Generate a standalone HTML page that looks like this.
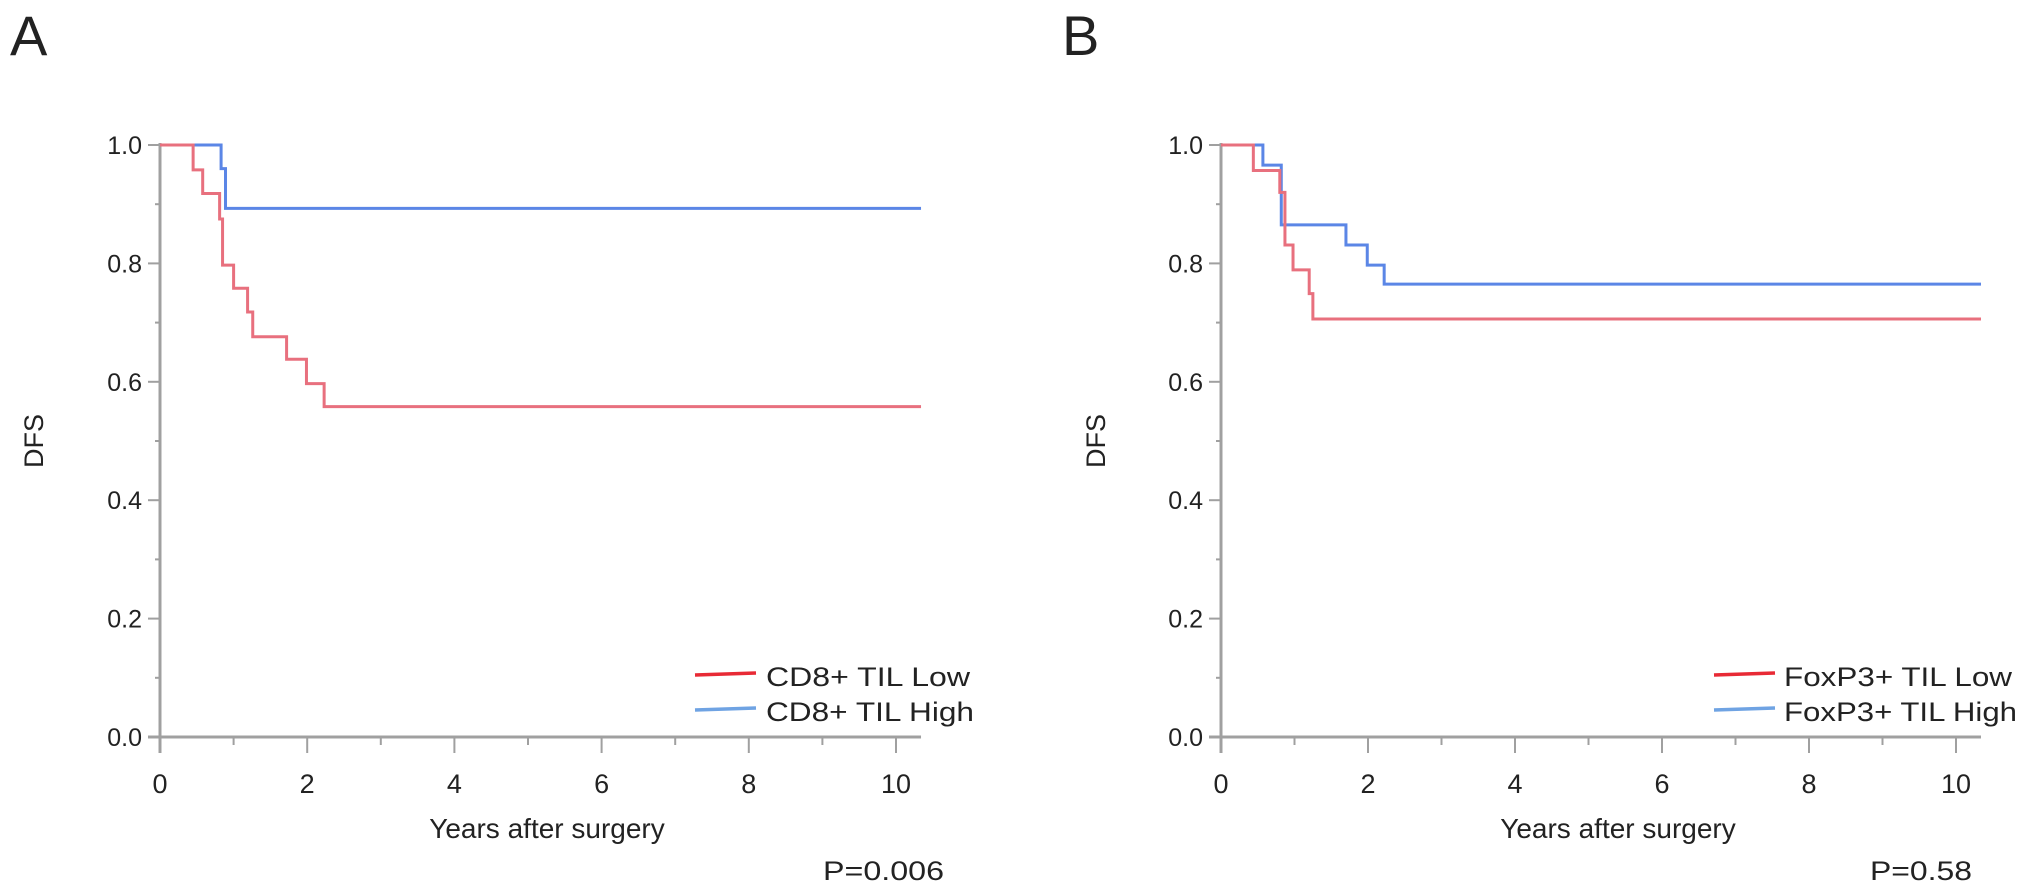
<!DOCTYPE html>
<html><head><meta charset="utf-8"><style>
html,body{margin:0;padding:0;background:#fff}
svg{display:block}
text{font-family:"Liberation Sans",Arial,sans-serif;fill:#222}
</style></head>
<body>
<svg id="fig" width="2031" height="894" viewBox="0 0 2031 894" xmlns="http://www.w3.org/2000/svg"></svg>
<script>
// ---- data ----
const xTicks = [0, 2, 4, 6, 8, 10];
const yTicks = [0.0, 0.2, 0.4, 0.6, 0.8, 1.0];
const yTickLabels = ["0.0", "0.2", "0.4", "0.6", "0.8", "1.0"];
const xMax = 10.34;
// Panel A
const aLowT = [0, 0.45, 0.58, 0.81, 0.85, 1.00, 1.19, 1.26, 1.72, 1.99, 2.23, 10.34];
const aLowS = [1.0, 0.958, 0.918, 0.875, 0.797, 0.758, 0.718, 0.676, 0.638, 0.597, 0.558, 0.558];
const aHighT = [0, 0.83, 0.89, 10.34];
const aHighS = [1.0, 0.96, 0.893, 0.893];
// Panel B
const bLowT = [0, 0.44, 0.80, 0.87, 0.98, 1.20, 1.25, 10.34];
const bLowS = [1.0, 0.957, 0.92, 0.831, 0.789, 0.749, 0.706, 0.706];
const bHighT = [0, 0.57, 0.82, 1.70, 1.99, 2.22, 10.34];
const bHighS = [1.0, 0.966, 0.865, 0.831, 0.797, 0.765, 0.765];

const NS = "http://www.w3.org/2000/svg";
const svg = document.getElementById("fig");
function mk(tag, attrs, parent) {
  const e = document.createElementNS(NS, tag);
  for (const k in attrs) e.setAttribute(k, attrs[k]);
  (parent || svg).appendChild(e);
  return e;
}

const panels = [
  {letter: "A", letterX: 10, x0: 160, pxPerYear: 73.6, lowT: aLowT, lowS: aLowS, highT: aHighT, highS: aHighS,
   dfsX: 34, xlabX: 547, legLineX: 695, legTextX: 766, legTextW: 204, lowLab: "CD8+ TIL Low", highLab: "CD8+ TIL High",
   highTextW: 208, p: "P=0.006", pX: 823, pW: 121},
  {letter: "B", letterX: 1062, x0: 1221, pxPerYear: 73.5, lowT: bLowT, lowS: bLowS, highT: bHighT, highS: bHighS,
   dfsX: 1096, xlabX: 1618, legLineX: 1714, legTextX: 1784, legTextW: 228, lowLab: "FoxP3+ TIL Low", highLab: "FoxP3+ TIL High",
   highTextW: 233, p: "P=0.58", pX: 1870, pW: 102}
];
const yTop = 145, yBot = 737;
function yScale(v) { return yBot - v * (yBot - yTop); }

panels.forEach(function (P, pi) {
  const tag = P.letter.toLowerCase();
  function xScale(t) { return P.x0 + t * P.pxPerYear; }
  const g = mk("g", {});
  
  

  const lt = mk("text", {x: P.letterX, y: 55, "font-size": 56}, g);
  lt.textContent = P.letter;
  
  

  // axes
  const xEnd = xScale(xMax);
  const yax = mk("line", {x1: P.x0, y1: yTop - 2, x2: P.x0, y2: yBot + 16, stroke: "#a0a0a0", "stroke-width": 3}, g);
  
  
  const xax = mk("line", {x1: P.x0 - 12, y1: yBot, x2: xEnd, y2: yBot, stroke: "#a0a0a0", "stroke-width": 3}, g);
  
  

  // y ticks
  for (let i = 0; i <= 10; i++) {
    const v = i / 10, y = yScale(v);
    const major = i % 2 === 0;
    mk("line", {x1: P.x0 - (major ? 12 : 5), y1: y, x2: P.x0, y2: y, stroke: "#a0a0a0", "stroke-width": 2}, g);
  }
  yTicks.forEach(function (v, i) {
    const t = mk("text", {x: P.x0 - 18, y: yScale(v) + 9, "font-size": 25, "text-anchor": "end"}, g);
    t.textContent = yTickLabels[i];
    
    
  });
  // x ticks
  for (let yr = 0; yr <= 10; yr++) {
    const x = xScale(yr);
    mk("line", {x1: x, y1: yBot, x2: x, y2: yBot + (yr % 2 === 0 ? 16 : 8), stroke: "#a0a0a0", "stroke-width": 2}, g);
  }
  xTicks.forEach(function (v) {
    const t = mk("text", {x: xScale(v), y: 793, "font-size": 27, "text-anchor": "middle"}, g);
    t.textContent = String(v);
    
    
  });

  const dfs = mk("text", {x: P.dfsX, y: 441, "font-size": 27, "text-anchor": "middle", transform: "rotate(-90 " + P.dfsX + " 441)", dy: 9}, g);
  dfs.textContent = "DFS";
  
  
  const xl = mk("text", {x: P.xlabX, y: 838, "font-size": 28, "text-anchor": "middle"}, g);
  xl.textContent = "Years after surgery";
  
  

  // curves
  function stepPath(T, S) {
    let d = "M" + xScale(T[0]) + "," + yScale(S[0]);
    for (let i = 1; i < T.length; i++) {
      d += " H" + xScale(T[i]) + " V" + yScale(S[i]);
    }
    return d;
  }
  const hi = mk("path", {d: stepPath(P.highT, P.highS), fill: "none", stroke: "#5b86e6", "stroke-width": 3}, g);
  
  
  const lo = mk("path", {d: stepPath(P.lowT, P.lowS), fill: "none", stroke: "#e8707e", "stroke-width": 3}, g);
  
  

  // legend
  const l1 = mk("line", {x1: P.legLineX, y1: 675, x2: P.legLineX + 61, y2: 673, stroke: "#e82a35", "stroke-width": 3.5}, g);
  
  
  const t1 = mk("text", {x: P.legTextX, y: 686, "font-size": 27, textLength: P.legTextW, lengthAdjust: "spacingAndGlyphs"}, g);
  t1.textContent = P.lowLab;
  
  
  const l2 = mk("line", {x1: P.legLineX, y1: 710, x2: P.legLineX + 61, y2: 708, stroke: "#6fa3e3", "stroke-width": 3.5}, g);
  
  
  const t2 = mk("text", {x: P.legTextX, y: 721, "font-size": 27, textLength: P.highTextW, lengthAdjust: "spacingAndGlyphs"}, g);
  t2.textContent = P.highLab;
  
  

  const pv = mk("text", {x: P.pX, y: 880, "font-size": 27, textLength: P.pW, lengthAdjust: "spacingAndGlyphs"}, g);
  pv.textContent = P.p;
  
  
});
</script>
</body></html>
